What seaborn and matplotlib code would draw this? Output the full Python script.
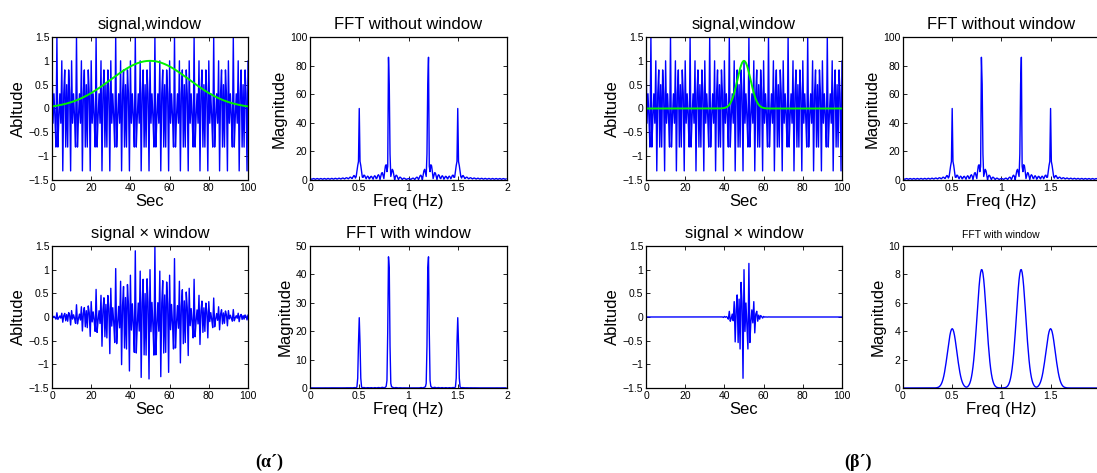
import numpy as np
import matplotlib
matplotlib.use("Agg")
import matplotlib.pyplot as plt
import seaborn as sns

# ---- data (signal model) ----
fs = 2.0                      # sampling rate (Hz)
t_start, t_stop = 0.0, 100.0  # seconds
freqs = [0.5, 0.8]            # component frequencies (Hz)
amps = [0.5, 1.0]             # component amplitudes
phases = [-np.pi / 2, 0.0]    # component phases (rad)
nfft = 256                    # FFT length
win_alpha = [2.5, 15.0]       # gaussian window parameter for panels (α´), (β´)
panel_labels = ["(α´)", "(β´)"]
fft_win_ylim = [50, 10]
fft_win_yticks = [[0, 10, 20, 30, 40, 50], [0, 2, 4, 6, 8, 10]]
sig_yticks = [-1.5, -1, -0.5, 0, 0.5, 1, 1.5]
sig_yticklabels = ["\u22121.5", "\u22121", "\u22120.5", "0", "0.5", "1", "1.5"]
fft_xticks_a = [0, 0.5, 1, 1.5, 2]
fft_xticklabels_a = ["0", "0.5", "1", "1.5", "2"]
fft_xticks_b = [0, 0.5, 1, 1.5]
fft_xticklabels_b = ["0", "0.5", "1", "1.5"]

t = np.arange(t_start, t_stop + 0.5 / fs, 1 / fs)
N = len(t)
sig = np.zeros(N)
for a, f, p in zip(amps, freqs, phases):
    sig += a * np.cos(2 * np.pi * f * t + p)


def gausswin(L, alpha):
    n = np.arange(L) - (L - 1) / 2
    return np.exp(-0.5 * (alpha * n / ((L - 1) / 2)) ** 2)


freq_axis = np.arange(nfft) * fs / nfft

# ---- style ----
sns.set_theme(style="ticks")
plt.rcParams.update({
    "font.family": ["Liberation Sans", "DejaVu Sans"],
    "xtick.direction": "in", "ytick.direction": "in",
    "xtick.top": True, "ytick.right": True,
    "xtick.major.size": 3, "ytick.major.size": 3,
    "xtick.major.width": 0.6, "ytick.major.width": 0.6,
    "xtick.major.pad": 2, "ytick.major.pad": 2,
    "xtick.labelsize": 7.5, "ytick.labelsize": 7.5,
    "axes.linewidth": 0.9, "axes.edgecolor": "black",
    "xtick.color": "black", "ytick.color": "black",
    "text.color": "black", "axes.labelcolor": "black",
})

W, H = 1097, 473
fig = plt.figure(figsize=(W / 100, H / 100), dpi=100)


def add_ax(x0, x1, y0, y1):
    return fig.add_axes([x0 / W, 1 - y1 / H, (x1 - x0) / W, (y1 - y0) / H])


cols = [(52, 248, 310, 507), (646, 842, 903, 1099)]
rows = [(37, 180), (246, 388)]
blue = (0, 0, 1)
green = (0, 0.95, 0)

for gi in range(2):
    w = gausswin(N, win_alpha[gi])
    xs = sig * w
    mag_raw = np.abs(np.fft.fft(sig, nfft))
    mag_win = np.abs(np.fft.fft(xs, nfft))
    lx0, lx1, rx0, rx1 = cols[gi]

    # signal, window
    ax = add_ax(lx0, lx1, *rows[0])
    sns.lineplot(x=t, y=sig, ax=ax, color=blue, lw=1.0, estimator=None, sort=False)
    sns.lineplot(x=t, y=w, ax=ax, color=green, lw=1.4, estimator=None, sort=False)
    ax.set_xlim(0, 100); ax.set_ylim(-1.5, 1.5)
    ax.set_yticks(sig_yticks); ax.set_yticklabels(sig_yticklabels)
    ax.set_xticks([0, 20, 40, 60, 80, 100])
    ax.set_title("signal,window", fontsize=12, pad=6)
    ax.set_xlabel("Sec", fontsize=12, labelpad=1)
    ax.set_ylabel("Abltude", fontsize=12, labelpad=2)

    # FFT without window
    ax = add_ax(rx0, rx1, *rows[0])
    sns.lineplot(x=freq_axis, y=mag_raw, ax=ax, color=blue, lw=1.0, estimator=None, sort=False)
    if gi == 0:
        ax.set_xlim(0, 2)
        ax.set_xticks(fft_xticks_a); ax.set_xticklabels(fft_xticklabels_a)
    else:
        ax.set_xlim(0, freq_axis[-1])
        ax.set_xticks(fft_xticks_b); ax.set_xticklabels(fft_xticklabels_b)
        ax.tick_params(axis="y", right=False)
    ax.set_ylim(0, 100); ax.set_yticks([0, 20, 40, 60, 80, 100])
    ax.set_title("FFT without window", fontsize=12, pad=6)
    ax.set_xlabel("Freq (Hz)", fontsize=12, labelpad=1)
    ax.set_ylabel("Magnitude", fontsize=12, labelpad=2)

    # signal x window
    ax = add_ax(lx0, lx1, *rows[1])
    sns.lineplot(x=t, y=xs, ax=ax, color=blue, lw=1.0, estimator=None, sort=False)
    ax.set_xlim(0, 100); ax.set_ylim(-1.5, 1.5)
    ax.set_yticks(sig_yticks); ax.set_yticklabels(sig_yticklabels)
    ax.set_xticks([0, 20, 40, 60, 80, 100])
    ax.set_title("signal \u00d7 window", fontsize=12, pad=6)
    ax.set_xlabel("Sec", fontsize=12, labelpad=1)
    ax.set_ylabel("Abltude", fontsize=12, labelpad=2)

    # FFT with window
    ax = add_ax(rx0, rx1, *rows[1])
    sns.lineplot(x=freq_axis, y=mag_win, ax=ax, color=blue, lw=1.0, estimator=None, sort=False)
    if gi == 0:
        ax.set_xlim(0, 2)
        ax.set_xticks(fft_xticks_a); ax.set_xticklabels(fft_xticklabels_a)
        ax.set_title("FFT with window", fontsize=12, pad=6)
    else:
        ax.set_xlim(0, freq_axis[-1])
        ax.set_xticks(fft_xticks_b); ax.set_xticklabels(fft_xticklabels_b)
        ax.tick_params(axis="y", right=False)
        ax.set_title("FFT with window", fontsize=7.5, pad=6)
    ax.set_ylim(0, fft_win_ylim[gi]); ax.set_yticks(fft_win_yticks[gi])
    ax.set_xlabel("Freq (Hz)", fontsize=12, labelpad=1)
    ax.set_ylabel("Magnitude", fontsize=12, labelpad=2)

fig.text(269 / W, 1 - 462 / H, panel_labels[0], ha="center", va="center",
         family=["Liberation Serif", "DejaVu Serif"], weight="bold", fontsize=13)
fig.text(858 / W, 1 - 462 / H, panel_labels[1], ha="center", va="center",
         family=["Liberation Serif", "DejaVu Serif"], weight="bold", fontsize=13)

fig.savefig("out.png", dpi=100)
